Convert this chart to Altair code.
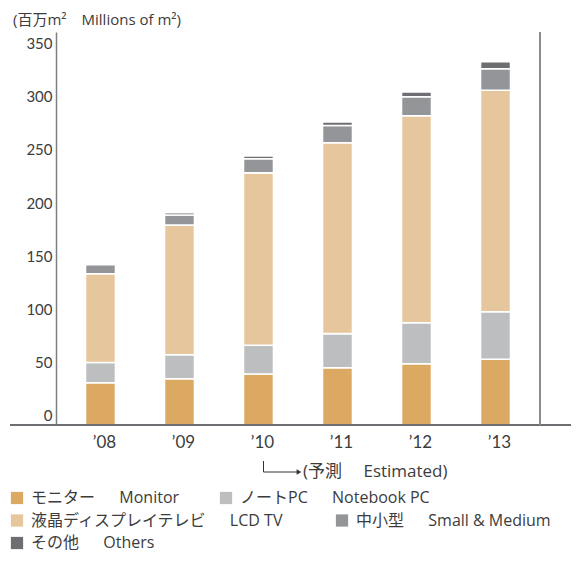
import altair as alt
import pandas as pd

years = ["’08", "’09", "’10", "’11", "’12", "’13"]
series = ["モニター　Monitor", "ノートPC　Notebook PC", "液晶ディスプレイテレビ　LCD TV",
          "中小型　Small & Medium", "その他　Others"]
colors = ["#dba962", "#bdbec0", "#e6c69c", "#939598", "#6d6e71"]

monitor = [39.8, 43.5, 48.0, 53.9, 57.6, 61.9]
notebook = [19.0, 22.6, 27.1, 32.1, 38.6, 44.7]
lcd_tv = [83.6, 122.2, 162.3, 179.7, 194.9, 208.6]
small_medium = [8.5, 9.4, 13.2, 16.3, 17.9, 20.2]
others = [0.0, 2.1, 2.6, 3.3, 4.5, 6.6]

y_ticks = [0, 50, 100, 150, 200, 250, 300, 350]
unit_title = "(百万m²　Millions of m²)"
estimated_label = "(予測　\u00a0Estimated)"
estimated_from = "’10"

# legend rows (row-major, as in the reference)
legend_rows = [[series[0], series[1]], [series[2], series[3]], [series[4]]]

FONT = "Lato, 'Noto Sans CJK JP', sans-serif"
FONT2 = "'Open Sans', 'Noto Sans CJK JP', sans-serif"
TXT = "#3c3c3c"
W, H = 484, 393

rows = []
for si, (name, vals) in enumerate(zip(series, [monitor, notebook, lcd_tv, small_medium, others])):
    for yi, (yr, v) in enumerate(zip(years, vals)):
        if v > 0:
            rows.append({"year": yr, "series": name, "value": v, "order": si})
df = pd.DataFrame(rows)

x_enc = alt.X("year:N", sort=years,
              scale=alt.Scale(paddingInner=0.62, paddingOuter=0.373),
              axis=alt.Axis(title=None, labelAngle=0, ticks=False, domain=False,
                            labelFontSize=17, labelPadding=9.5, labelOffset=4,
                            labelColor=TXT, labelFont=FONT))
y_enc = alt.Y("value:Q", stack="zero",
              scale=alt.Scale(domain=[0, 370], nice=False),
              axis=alt.Axis(title=None, values=y_ticks, ticks=False, grid=False,
                            domainColor="#808080", domainWidth=1.5,
                            labelFontSize=15, labelPadding=4, labelOffset=-9.5,
                            labelColor=TXT, labelFont=FONT))


def legend_for(values, ly, cpad):
    return alt.Legend(title=None, orient="none", legendX=-47, legendY=ly, values=values,
                      direction="horizontal", columnPadding=cpad, symbolType="square",
                      symbolSize=150, symbolStrokeWidth=0, symbolOpacity=1,
                      labelFontSize=16, labelFont=FONT2, labelColor=TXT,
                      labelOffset=6, labelLimit=400,
                      labelExpr="replace(datum.label, '　', '　\u00a0\u00a0')")


legend_y = [458, 480.5, 503]
legend_pad = [38, 50, 38]

layers = []
for ri, (vals, ly, cp) in enumerate(zip(legend_rows, legend_y, legend_pad)):
    mark = alt.Chart(df).mark_bar(stroke="white", strokeWidth=1.6, opacity=1 if ri == 0 else 0)
    layers.append(mark.encode(
        x=x_enc, y=y_enc,
        color=alt.Color("series:N", sort=series,
                        scale=alt.Scale(domain=series, range=colors),
                        legend=legend_for(vals, ly, cp)),
        order=alt.Order("order:Q", sort="ascending"),
    ))

one = pd.DataFrame({"a": [0]})
base_line = alt.Chart(one).mark_rule(color="#6d6e71", strokeWidth=2).encode(
    x=alt.value(-46), x2=alt.value(W + 31), y=alt.value(H))
right_line = alt.Chart(one).mark_rule(color="#8c8c8c", strokeWidth=2).encode(
    x=alt.value(W), y=alt.value(0), y2=alt.value(H))

title_txt = alt.Chart(one).mark_text(align="left", baseline="middle", fontSize=15,
                                     font=FONT2, color=TXT).encode(
    x=alt.value(-43), y=alt.value(-12), text=alt.value(unit_title))

arr_df = pd.DataFrame({"year": [estimated_from]})
arr_v = alt.Chart(arr_df).mark_rule(color="#333333", strokeWidth=1).encode(
    x=alt.X("year:N", sort=years, bandPosition=0.667),
    y=alt.value(H + 36), y2=alt.value(H + 47))
arr_h = alt.Chart(arr_df).mark_rule(color="#333333", strokeWidth=1).encode(
    x=alt.X("year:N", sort=years, bandPosition=0.667), x2=alt.value(241),
    y=alt.value(H + 47))
arr_head = alt.Chart(one).mark_point(shape="triangle-right", filled=True, size=30,
                                     color="#333333", opacity=1).encode(
    x=alt.value(243), y=alt.value(H + 47))
arr_txt = alt.Chart(one).mark_text(align="left", baseline="middle", fontSize=17,
                                   font=FONT2, color=TXT).encode(
    x=alt.value(247), y=alt.value(H + 47), text=alt.value(estimated_label))

chart = alt.layer(*layers, base_line, right_line, title_txt, arr_v, arr_h, arr_head, arr_txt).resolve_scale(
    color="independent"
).properties(
    width=W, height=H,
    padding={"left": 1, "top": 5, "right": 0, "bottom": 3},
).configure_view(stroke=None)

chart.save("out.html", embed_options={"renderer": "svg", "actions": False})
